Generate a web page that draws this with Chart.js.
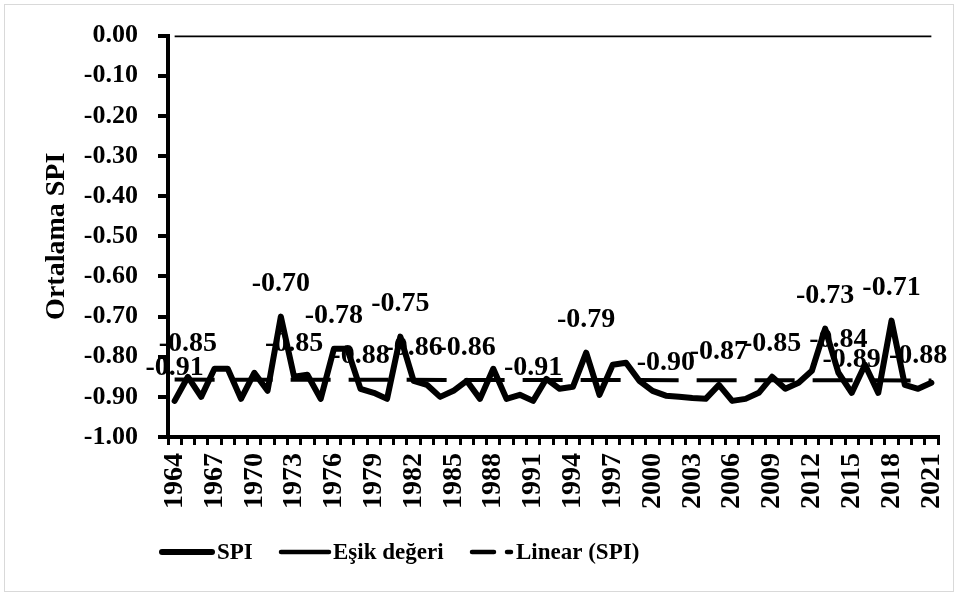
<!DOCTYPE html>
<html><head><meta charset="utf-8">
<script src="https://cdn.jsdelivr.net/npm/chart.js@4/dist/chart.umd.min.js"></script>
<style>html,body{margin:0;padding:0;background:#fff;}canvas{display:block;}</style>
</head><body>
<canvas id="c" width="958" height="596"></canvas>
<script>
const years = [1964,1965,1966,1967,1968,1969,1970,1971,1972,1973,1974,1975,1976,1977,1978,1979,1980,1981,1982,1983,1984,1985,1986,1987,1988,1989,1990,1991,1992,1993,1994,1995,1996,1997,1998,1999,2000,2001,2002,2003,2004,2005,2006,2007,2008,2009,2010,2011,2012,2013,2014,2015,2016,2017,2018,2019,2020,2021];
const spiValues = [-0.91,-0.85,-0.90,-0.83,-0.83,-0.905,-0.84,-0.885,-0.70,-0.85,-0.845,-0.905,-0.78,-0.78,-0.88,-0.89,-0.905,-0.75,-0.86,-0.87,-0.90,-0.885,-0.86,-0.905,-0.83,-0.905,-0.895,-0.91,-0.855,-0.88,-0.875,-0.79,-0.895,-0.82,-0.815,-0.86,-0.885,-0.897,-0.90,-0.903,-0.905,-0.87,-0.91,-0.905,-0.89,-0.85,-0.88,-0.865,-0.835,-0.73,-0.84,-0.89,-0.82,-0.89,-0.71,-0.87,-0.88,-0.865];
const esikValue = 0.00;
const trendEnds = [-0.857, -0.859];
const labeledYears = [1964,1965,1972,1973,1976,1978,1981,1982,1986,1991,1995,2001,2005,2009,2013,2014,2015,2018,2020];
const seriesNames = ['SPI', 'Eşik değeri', 'Linear (SPI)'];
const yRange = [-1.0, 0.0];
const yStep = 0.1;
const xLabelEvery = 3;

const FONT = "'Liberation Serif', 'Times New Roman', serif";
const last = years.length - 1;

const esikData = years.map(() => esikValue);
const trendData = years.map((y, i) => i === 0 ? trendEnds[0] : (i === last ? trendEnds[1] : null));

const frame = {
  id: 'frame',
  beforeDraw(chart) {
    const ctx = chart.ctx;
    ctx.save();
    ctx.fillStyle = '#fff';
    ctx.fillRect(0, 0, chart.width, chart.height);
    ctx.strokeStyle = '#d9d9d9';
    ctx.lineWidth = 1;
    ctx.strokeRect(4.5, 4.5, chart.width - 9, chart.height - 9);
    ctx.restore();
  }
};

const dataLabels = {
  id: 'dataLabels',
  afterDatasetsDraw(chart) {
    const ctx = chart.ctx;
    const meta = chart.getDatasetMeta(0);
    const ds = chart.data.datasets[0];
    ctx.save();
    ctx.font = "bold 28px " + FONT;
    ctx.fillStyle = '#000';
    ctx.textAlign = 'center';
    ctx.textBaseline = 'middle';
    labeledYears.forEach(yr => {
      const i = years.indexOf(yr);
      const p = meta.data[i];
      ctx.fillText(ds.data[i].toFixed(2), p.x, p.y - 33);
    });
    ctx.restore();
  }
};

const legendDraw = {
  id: 'legendDraw',
  afterDraw(chart) {
    const ctx = chart.ctx;
    const y = 552;
    ctx.save();
    ctx.strokeStyle = '#000';
    ctx.fillStyle = '#000';
    ctx.lineCap = 'round';
    ctx.font = "bold 23px " + FONT;
    ctx.textBaseline = 'middle';
    ctx.textAlign = 'left';
    const items = [
      {x0: 162, x1: 212, w: 6, dash: [], tx: 217},
      {x0: 281, x1: 329, w: 4.5, dash: [], tx: 333},
      {x0: 472, x1: 511, w: 4.5, dash: [22, 13], tx: 516}
    ];
    items.forEach((it, k) => {
      ctx.lineWidth = it.w;
      ctx.setLineDash(it.dash);
      ctx.beginPath();
      ctx.moveTo(it.x0, y);
      ctx.lineTo(it.x1, y);
      ctx.stroke();
      ctx.setLineDash([]);
      ctx.fillText(chart.data.datasets[k].label, it.tx, y + 1);
    });
    ctx.restore();
  }
};

new Chart(document.getElementById('c'), {
  type: 'line',
  data: {
    labels: years,
    datasets: [
      {label: seriesNames[0], data: spiValues, borderColor: '#000', backgroundColor: '#000', borderWidth: 6, pointRadius: 0, tension: 0, borderJoinStyle: 'round', borderCapStyle: 'round'},
      {label: seriesNames[1], data: esikData, borderColor: '#000', backgroundColor: '#000', borderWidth: 3.5, pointRadius: 0, tension: 0},
      {label: seriesNames[2], data: trendData, borderColor: '#000', backgroundColor: '#000', borderWidth: 4, borderDash: [40, 18], pointRadius: 0, spanGaps: true, tension: 0}
    ]
  },
  options: {
    responsive: false,
    animation: false,
    events: [],
    layout: {padding: {left: 0, right: 20, top: 33, bottom: 0}},
    plugins: {legend: {display: false}, tooltip: {enabled: false}, title: {display: false}},
    scales: {
      x: {
        type: 'category',
        offset: true,
        afterFit(s) { s.height = 159; s.paddingRight = 0; },
        border: {display: true, color: '#000', width: 4},
        grid: {display: true, drawOnChartArea: false, drawTicks: true, tickLength: 8, color: '#000', lineWidth: 3, offset: true},
        ticks: {
          autoSkip: false, maxRotation: 90, minRotation: 90, padding: 8, color: '#000',
          font: {family: FONT, size: 28, weight: 'bold'},
          callback(value, index) { return index % xLabelEvery === 0 ? String(years[index]) : ''; }
        }
      },
      y: {
        min: yRange[0], max: yRange[1],
        afterFit(s) { s.width = 168; },
        border: {display: true, color: '#000', width: 4},
        grid: {display: true, drawOnChartArea: false, drawTicks: true, tickLength: 10, color: '#000', lineWidth: 4},
        ticks: {
          stepSize: yStep, autoSkip: false, padding: 20, color: '#000',
          font: {family: FONT, size: 26, weight: 'bold'},
          callback(v) { return Number(v).toFixed(2); }
        },
        title: {display: true, text: 'Ortalama SPI', color: '#000', padding: {top: 40, bottom: 0}, font: {family: FONT, size: 28, weight: 'bold'}}
      }
    }
  },
  plugins: [frame, dataLabels, legendDraw]
});
</script>
</body></html>
